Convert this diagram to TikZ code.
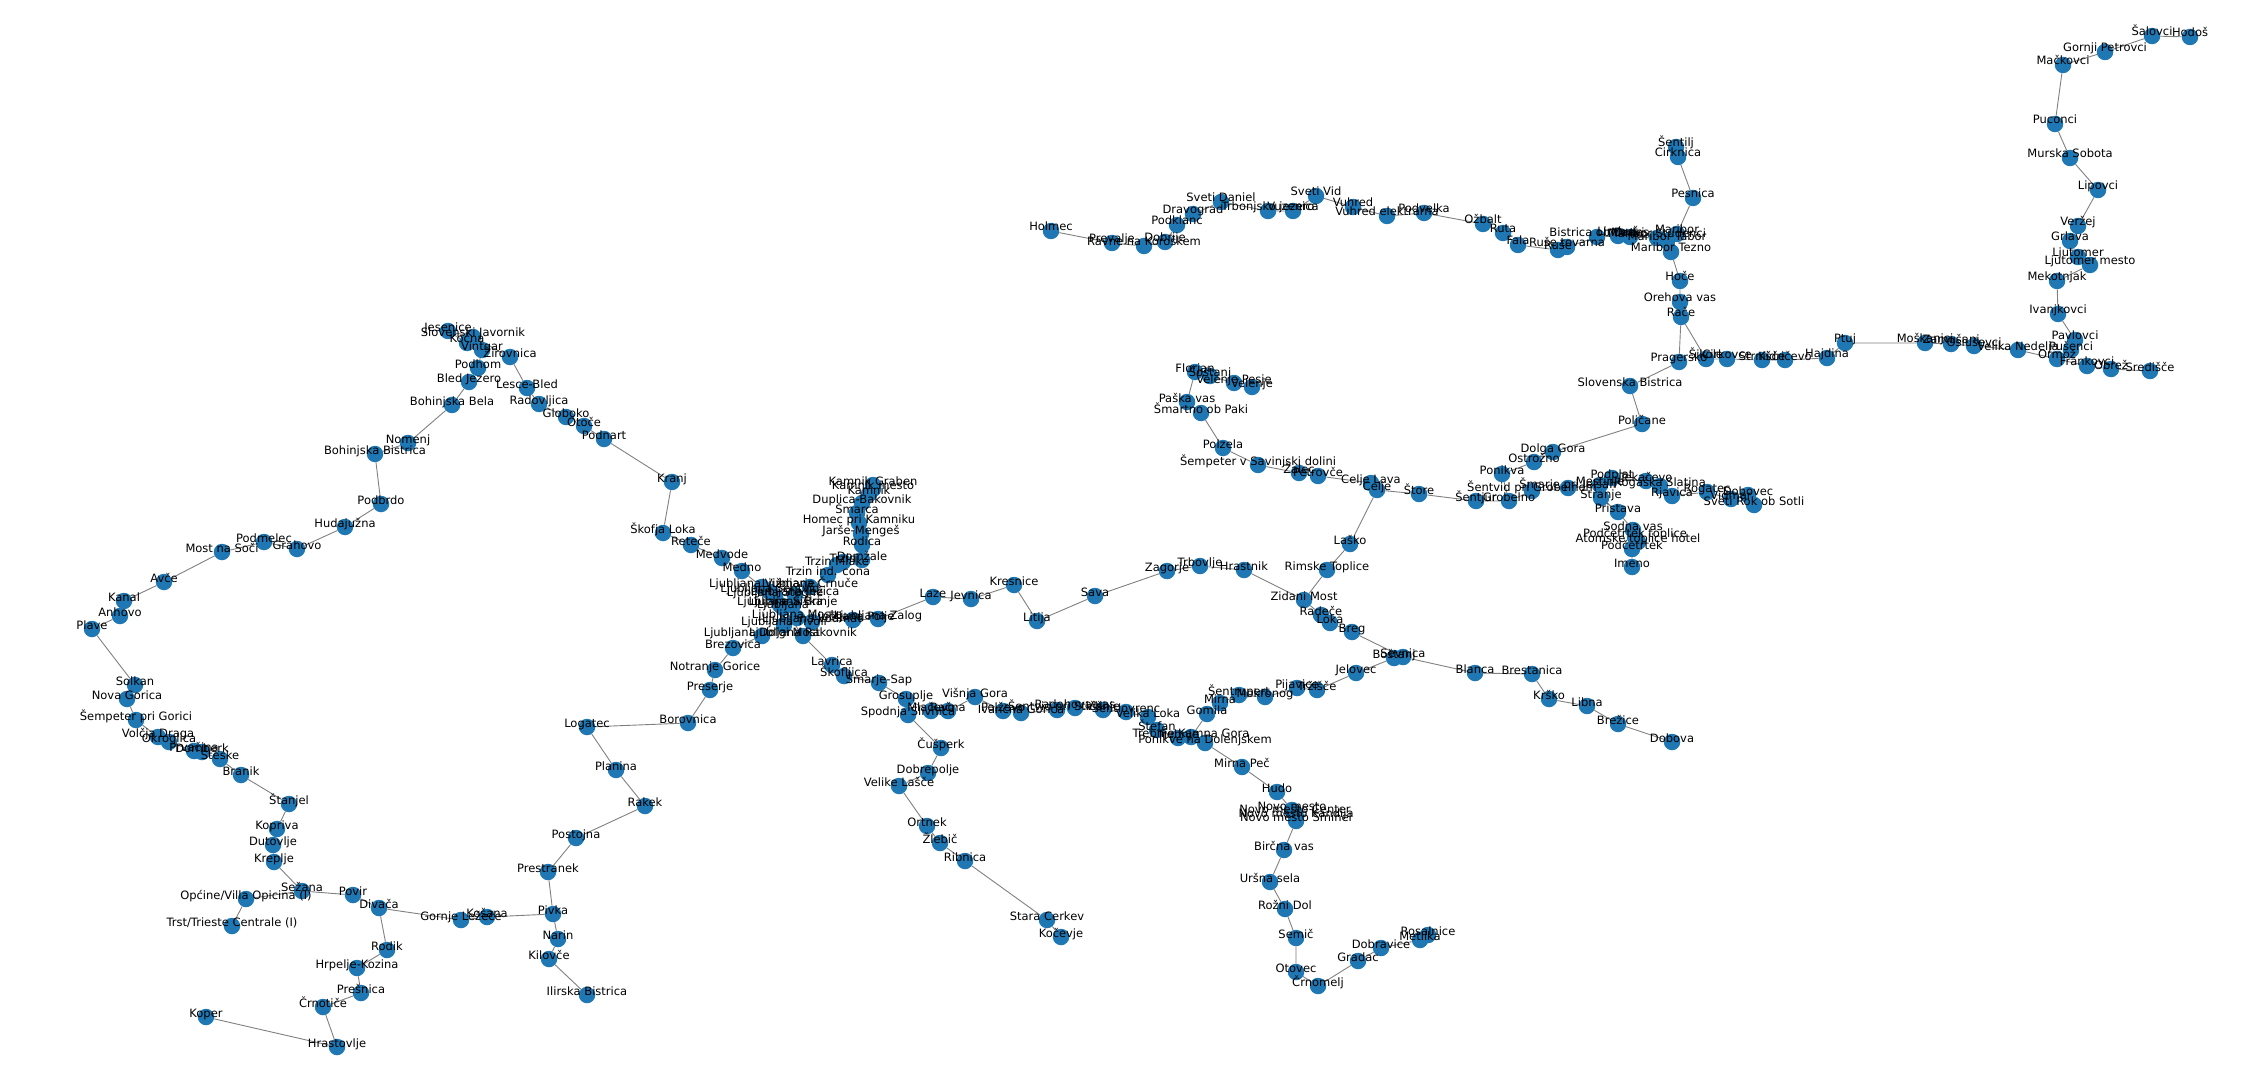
\documentclass[tikz,border=0pt]{standalone}
\usepackage{fontspec}
\setmainfont{DejaVu Sans}
\usetikzlibrary{backgrounds}
\definecolor{stnblue}{HTML}{1F77B4}
\def\stations{%
jes/448/331/Jesenice,javo/473/337/Slovenski Javornik,koc/467/343/Kočna,vint/482/350/Vintgar,
ziro/510/357/Žirovnica,podh/478/368/Podhom,blje/469/382/Bled Jezero,lesc/527/388/Lesce-Bled,
rado/539/404/Radovljica,glob/566/417/Globoko,otoc/584/426/Otoče,podn/604/439/Podnart,
bobe/452/405/Bohinjska Bela,nome/408/443/Nomenj,bobi/375/454/Bohinjska Bistrica,podb/381/504/Podbrdo,
huda/345/527/Hudajužna,grah/297/549/Grahovo,podm/264/542/Podmelec,most/222/552/Most na Soči,
avce/164/582/Avče,kana/124/601/Kanal,anho/120/616/Anhovo,plav/92/629/Plave,
solk/135/685/Solkan,nogo/127/699/Nova Gorica,semp/136/720/Šempeter pri Gorici,vold/158/737/Volčja Draga,
okro/169/742/Okroglica,prva/194/751/Prvačina,dorn/202/752/Dornberk,stes/220/759/Steske,
bran/241/775/Branik,stan/289/804/Štanjel,kopr/277/829/Kopriva,duto/273/845/Dutovlje,
krep/274/862/Kreplje,seza/302/891/Sežana,povi/353/895/Povir,diva/379/908/Divača,
opci/246/899/{Općine/Villa Opicina (I)},trst/232/926/{Trst/Trieste Centrale (I)},
lez/461/920/Gornje Ležeče,kosa/487/917/Košana,pivk/553/914/Pivka,nari/558/939/Narin,
kilo/549/959/Kilovče,ilir/587/995/Ilirska Bistrica,pres/548/872/Prestranek,post/576/838/Postojna,
rake/645/806/Rakek,plan/616/770/Planina,loga/587/727/Logatec,boro/688/723/Borovnica,
prsr/710/690/Preserje,noto/715/670/Notranje Gorice,brez/733/648/Brezovica,
rodi/387/950/Rodik,hrpe/357/968/Hrpelje-Kozina,presn/361/993/Prešnica,crno/323/1007/Črnotiče,
kope/206/1017/Koper,hras/337/1047/Hrastovlje,
kranj/672/482/Kranj,skof/663/533/Škofja Loka,rete/691/545/Reteče,medv/722/558/Medvode,medn/742/571/Medno,
vizm/762/587/Ljubljana Vižmarje,sent/770/592/Ljubljana Šentvid,steg/775/596/Ljubljana Stegne,
sisk/780/605/Ljubljana Šiška,lj/783/608/Ljubljana,brin/793/605/Ljubljana Brinje,jez/795/595/Ljubljana Ježica,
crnu/810/587/Ljubljana Črnuče,tivo/784/625/Ljubljana Tivoli,moste/797/618/Ljubljana Moste,
vodm/812/622/Ljubljana Vodmat,dolg/762/636/Ljubljana Dolgi Most,rako/803/636/Ljubljana Rakovnik,
polj/853/620/Ljubljana Polje,zalo/878/619/Ljubljana Zalog,laze/933/597/Laze,jevn/971/599/Jevnica,
tcon/828/575/Trzin ind. cona,trmk/837/565/Trzin Mlake,trzn/843/562/Trzin,domz/862/560/Domžale,
rodc/862/545/Rodica,jars/861/534/Jarše-Mengeš,home/859/523/Homec pri Kamniku,smar/857/513/Šmarca,
dupl/862/503/Duplica-Bakovnik,kamn/869/494/Kamnik,kmes/873/489/Kamnik mesto,kgra/873/485/Kamnik Graben,
kres/1014/585/Kresnice,liti/1037/621/Litija,sava/1095/596/Sava,zago/1167/571/Zagorje,trbo/1200/566/Trbovlje,
hrst/1244/570/Hrastnik,zida/1304/600/Zidani Most,rims/1327/570/Rimske Toplice,lask/1350/544/Laško,
rade/1321/615/Radeče,loka/1330/623/Loka,breg/1352/632/Breg,bost/1394/658/Boštanj,sevn/1403/657/Sevnica,
blan/1475/673/Blanca,brst/1532/674/Brestanica,krsk/1549/699/Krško,libn/1587/706/Libna,brzc/1618/724/Brežice,
dobo/1672/742/Dobova,jelo/1356/673/Jelovec,trzi/1317/690/Tržišče,pija/1297/688/Pijavice,mokr/1265/697/Mokronog,
srup/1239/695/Šentrupert,mirn/1220/703/Mirna,gomi/1207/714/Gomila,
lavr/832/665/Lavrica,skfl/844/676/Škofljica,sap/879/683/Šmarje-Sap,gros/906/699/Grosuplje,
sliv/908/715/Spodnja Slivnica,mlac/931/711/Mlačevo,racn/948/711/Račna,visg/975/697/Višnja Gora,
polz/1003/711/Polževo,ivan/1021/713/Ivančna Gorica,stic/1057/710/Šentvid pri Stični,radh/1075/708/Radohova vas,
visn/1103/710/Višnje,slov/1126/712/Šentlovrenc,vlok/1148/717/Velika Loka,stef/1157/730/Štefan,
treb/1178/738/Trebnje,tkam/1191/737/Trebnje Kamna Gora,poni/1205/743/Ponikve na Dolenjskem,
mpec/1242/767/Mirna Peč,hudo/1277/792/Hudo,nmes/1292/810/Novo mesto,ncen/1295/813/Novo mesto Center,
nkan/1296/817/Novo mesto Kandija,nsmi/1296/821/Novo mesto Šmihel,birc/1284/850/Birčna vas,
ursn/1270/882/Uršna sela,rozn/1285/909/Rožni Dol,semi/1296/938/Semič,otov/1296/972/Otovec,crnm/1318/986/Črnomelj,
grad/1358/961/Gradac,dobr/1381/948/Dobravice,metl/1420/940/Metlika,rosa/1428/935/Rosalnice,
cusp/941/748/Čušperk,dbrp/928/773/Dobrepolje,vela/899/786/Velike Lašče,ortn/927/826/Ortnek,zleb/940/843/Žlebič,
ribn/965/861/Ribnica,star/1047/920/Stara Cerkev,koce/1061/937/Kočevje,
holm/1051/231/Holmec,prev/1112/243/Prevalje,ravn/1144/246/Ravne na Koroškem,dobj/1165/242/Dobrije,
pokl/1177/225/Podklanc,drav/1193/214/Dravograd,dani/1221/202/Sveti Daniel,trbj/1268/211/Trbonjsko jezero,
vuze/1293/211/Vuzenica,svid/1316/196/Sveti Vid,vuhr/1353/207/Vuhred,vuel/1387/216/Vuhred elektrarna,
podv/1424/213/Podvelka,ozba/1483/224/Ožbalt,ruta/1503/233/Ruta,fala/1518/245/Fala,ruse/1558/250/Ruše,
rtov/1567/247/Ruše tovarna,bist/1597/237/Bistrica ob Dravi,limb/1618/236/Limbuš,marl/1630/237/Marles,
mstu/1657/238/Maribor Studenci,mtab/1667/241/Maribor Tabor,mari/1677/234/Maribor,mtez/1671/252/Maribor Tezno,
hoce/1680/281/Hoče,orev/1680/302/Orehova vas,race/1681/317/Rače,pesn/1693/198/Pesnica,cirk/1678/157/Cirknica,
sntl/1676/147/Šentilj,prag/1679/362/Pragersko,siko/1706/359/Šikole,cirv/1727/359/Cirkovce,strn/1762/360/Strnišče,
kidr/1785/360/Kidričevo,hajd/1827/358/Hajdina,ptuj/1845/343/Ptuj,mosk/1925/343/Moškanjci,zamu/1951/344/Zamušani,
oslu/1974/346/Osluševci,vned/2018/350/Velika Nedelja,ormo/2057/359/Ormož,puse/2071/350/Pušenci,pavl/2075/340/Pavlovci,
ivnj/2058/314/Ivanjkovci,fran/2087/366/Frankovci,obre/2111/369/Obrež,sred/2150/371/Središče,
meko/2057/281/Mekotnjak,ljme/2090/265/Ljutomer mesto,ljut/2078/257/Ljutomer,grla/2070/241/Grlava,verz/2078/226/Veržej,
lipo/2098/190/Lipovci,msob/2070/158/Murska Sobota,pucn/2055/124/Puconci,mack/2063/65/Mačkovci,
gpet/2105/52/Gornji Petrovci,salo/2152/36/Šalovci,hodo/2190/37/Hodoš,
floj/1195/372/Florjan,sost/1210/376/Šoštanj,vpes/1234/383/Velenje Pesje,vele/1252/387/Velenje,pask/1187/402/Paška vas,
smpk/1201/413/Šmartno ob Paki,polc/1223/448/Polzela,sesd/1258/465/Šempeter v Savinjski dolini,zale/1299/473/Žalec,
petr/1318/476/Petrovče,clav/1371/483/Celje Lava,celj/1377/490/Celje,stor/1419/494/Štore,
dgor/1553/452/Dolga Gora,ostr/1534/462/Ostrožno,ponk/1502/474/Ponikva,sjur/1476/501/Šentjur,grob/1509/501/Grobelno,
svgr/1532/491/Šentvid pri Grobelnem,sjel/1568/488/Šmarje pri Jelšah,mest/1600/485/Mestinje,popl/1612/478/Podplat,
stra/1601/498/Stranje,pris/1618/512/Pristava,rsla/1660/486/Rogaška Slatina,teka/1646/481/Tekačevo,rjav/1672/496/Rjavica,
roga/1707/492/Rogatec,vidm/1731/499/Vidmar,dobv/1748/495/Dobovec,srok/1754/505/Sveti Rok ob Sotli,
sodn/1633/530/Sodna vas,ptop/1635/537/Podčetrtek toplice,atom/1638/542/Atomske toplice hotel,
pcet/1632/549/Podčetrtek,imen/1632/567/Imeno,polj2/1642/424/Poljčane,sbis/1630/386/Slovenska Bistrica}
\begin{document}
\begin{tikzpicture}[x=1pt,y=-1pt]
  \tikzstyle{stn}=[circle,fill=stnblue,minimum size=16.5pt,inner sep=0pt]
  \tikzstyle{lbl}=[anchor=base,inner sep=0pt,text=black,font=\fontsize{11.5}{13}\selectfont]
  \tikzstyle{lnk}=[draw=black!50,line width=0.9pt]
  \useasboundingbox (0,0) rectangle (2268,1083);
  \foreach \id/\x/\y/\txt in \stations {
    \node[stn] (\id) at (\x,\y) {};
  }
  \begin{scope}[on background layer]
    \draw[lnk] (jes) -- (javo) -- (ziro) -- (lesc) -- (rado) -- (glob) -- (otoc) -- (podn) -- (kranj) -- (skof) -- (rete) -- (medv) -- (medn) -- (vizm) -- (sent) -- (steg) -- (sisk) -- (lj);
    \draw[lnk] (jes) -- (koc) -- (vint) -- (podh) -- (blje) -- (bobe) -- (nome) -- (bobi) -- (podb) -- (huda) -- (grah) -- (podm) -- (most) -- (avce) -- (kana) -- (anho) -- (plav) -- (solk) -- (nogo) -- (semp) -- (vold) -- (okro) -- (prva) -- (dorn) -- (stes) -- (bran) -- (stan) -- (kopr) -- (duto) -- (krep) -- (seza);
    \draw[lnk] (trst) -- (opci) -- (seza) -- (povi) -- (diva) -- (lez) -- (kosa) -- (pivk) -- (pres) -- (post) -- (rake) -- (plan) -- (loga) -- (boro) -- (prsr) -- (noto) -- (brez) -- (dolg) -- (tivo) -- (lj);
    \draw[lnk] (diva) -- (rodi) -- (hrpe) -- (presn) -- (crno) -- (hras) -- (kope);
    \draw[lnk] (pivk) -- (nari) -- (kilo) -- (ilir);
    \draw[lnk] (lj) -- (brin) -- (jez) -- (crnu) -- (tcon) -- (trmk) -- (trzn) -- (domz) -- (rodc) -- (jars) -- (home) -- (smar) -- (dupl) -- (kamn) -- (kmes) -- (kgra);
    \draw[lnk] (lj) -- (moste) -- (vodm) -- (polj) -- (zalo) -- (laze) -- (jevn) -- (kres) -- (liti) -- (sava) -- (zago) -- (trbo) -- (hrst) -- (zida) -- (rims) -- (lask) -- (celj);
    \draw[lnk] (zida) -- (rade) -- (loka) -- (breg) -- (sevn) -- (blan) -- (brst) -- (krsk) -- (libn) -- (brzc) -- (dobo);
    \draw[lnk] (sevn) -- (bost) -- (jelo) -- (trzi) -- (pija) -- (mokr) -- (srup) -- (mirn) -- (gomi) -- (tkam) -- (treb) -- (stef) -- (vlok) -- (slov) -- (visn) -- (radh) -- (stic) -- (ivan) -- (polz) -- (visg) -- (racn) -- (mlac) -- (gros) -- (sap) -- (skfl) -- (lavr) -- (rako) -- (lj);
    \draw[lnk] (tkam) -- (poni) -- (mpec) -- (hudo) -- (nmes) -- (ncen) -- (nkan) -- (nsmi) -- (birc) -- (ursn) -- (rozn) -- (semi) -- (otov) -- (crnm) -- (grad) -- (dobr) -- (metl) -- (rosa);
    \draw[lnk] (gros) -- (sliv) -- (cusp) -- (dbrp) -- (vela) -- (ortn) -- (zleb) -- (ribn) -- (star) -- (koce);
    \draw[lnk] (holm) -- (prev) -- (ravn) -- (dobj) -- (pokl) -- (drav) -- (dani) -- (trbj) -- (vuze) -- (svid) -- (vuhr) -- (vuel) -- (podv) -- (ozba) -- (ruta) -- (fala) -- (ruse) -- (rtov) -- (bist) -- (limb) -- (marl) -- (mstu) -- (mtab) -- (mari) -- (pesn) -- (cirk) -- (sntl);
    \draw[lnk] (mari) -- (mtez) -- (hoce) -- (orev) -- (race) -- (prag) -- (sbis) -- (polj2) -- (dgor) -- (ostr) -- (ponk) -- (grob) -- (sjur) -- (stor) -- (celj) -- (clav) -- (petr) -- (zale) -- (sesd) -- (polc) -- (smpk) -- (pask) -- (floj) -- (sost) -- (vpes) -- (vele);
    \draw[lnk] (race) -- (siko) -- (cirv) -- (strn) -- (kidr) -- (hajd) -- (ptuj) -- (mosk) -- (zamu) -- (oslu) -- (vned) -- (ormo) -- (fran) -- (obre) -- (sred);
    \draw[lnk] (ormo) -- (puse) -- (pavl) -- (ivnj) -- (meko) -- (ljme) -- (ljut) -- (grla) -- (verz) -- (lipo) -- (msob) -- (pucn) -- (mack) -- (gpet) -- (salo) -- (hodo);
    \draw[lnk] (grob) -- (svgr) -- (sjel) -- (mest) -- (popl) -- (teka) -- (rsla) -- (rjav) -- (roga) -- (vidm) -- (dobv) -- (srok);
    \draw[lnk] (mest) -- (stra) -- (pris) -- (sodn) -- (ptop) -- (atom) -- (pcet) -- (imen);
  \end{scope}
  \foreach \id/\x/\y/\txt in \stations {
    \node[lbl] (\id-t) at (\x,\y) {\txt};
  }
\end{tikzpicture}
\end{document}
